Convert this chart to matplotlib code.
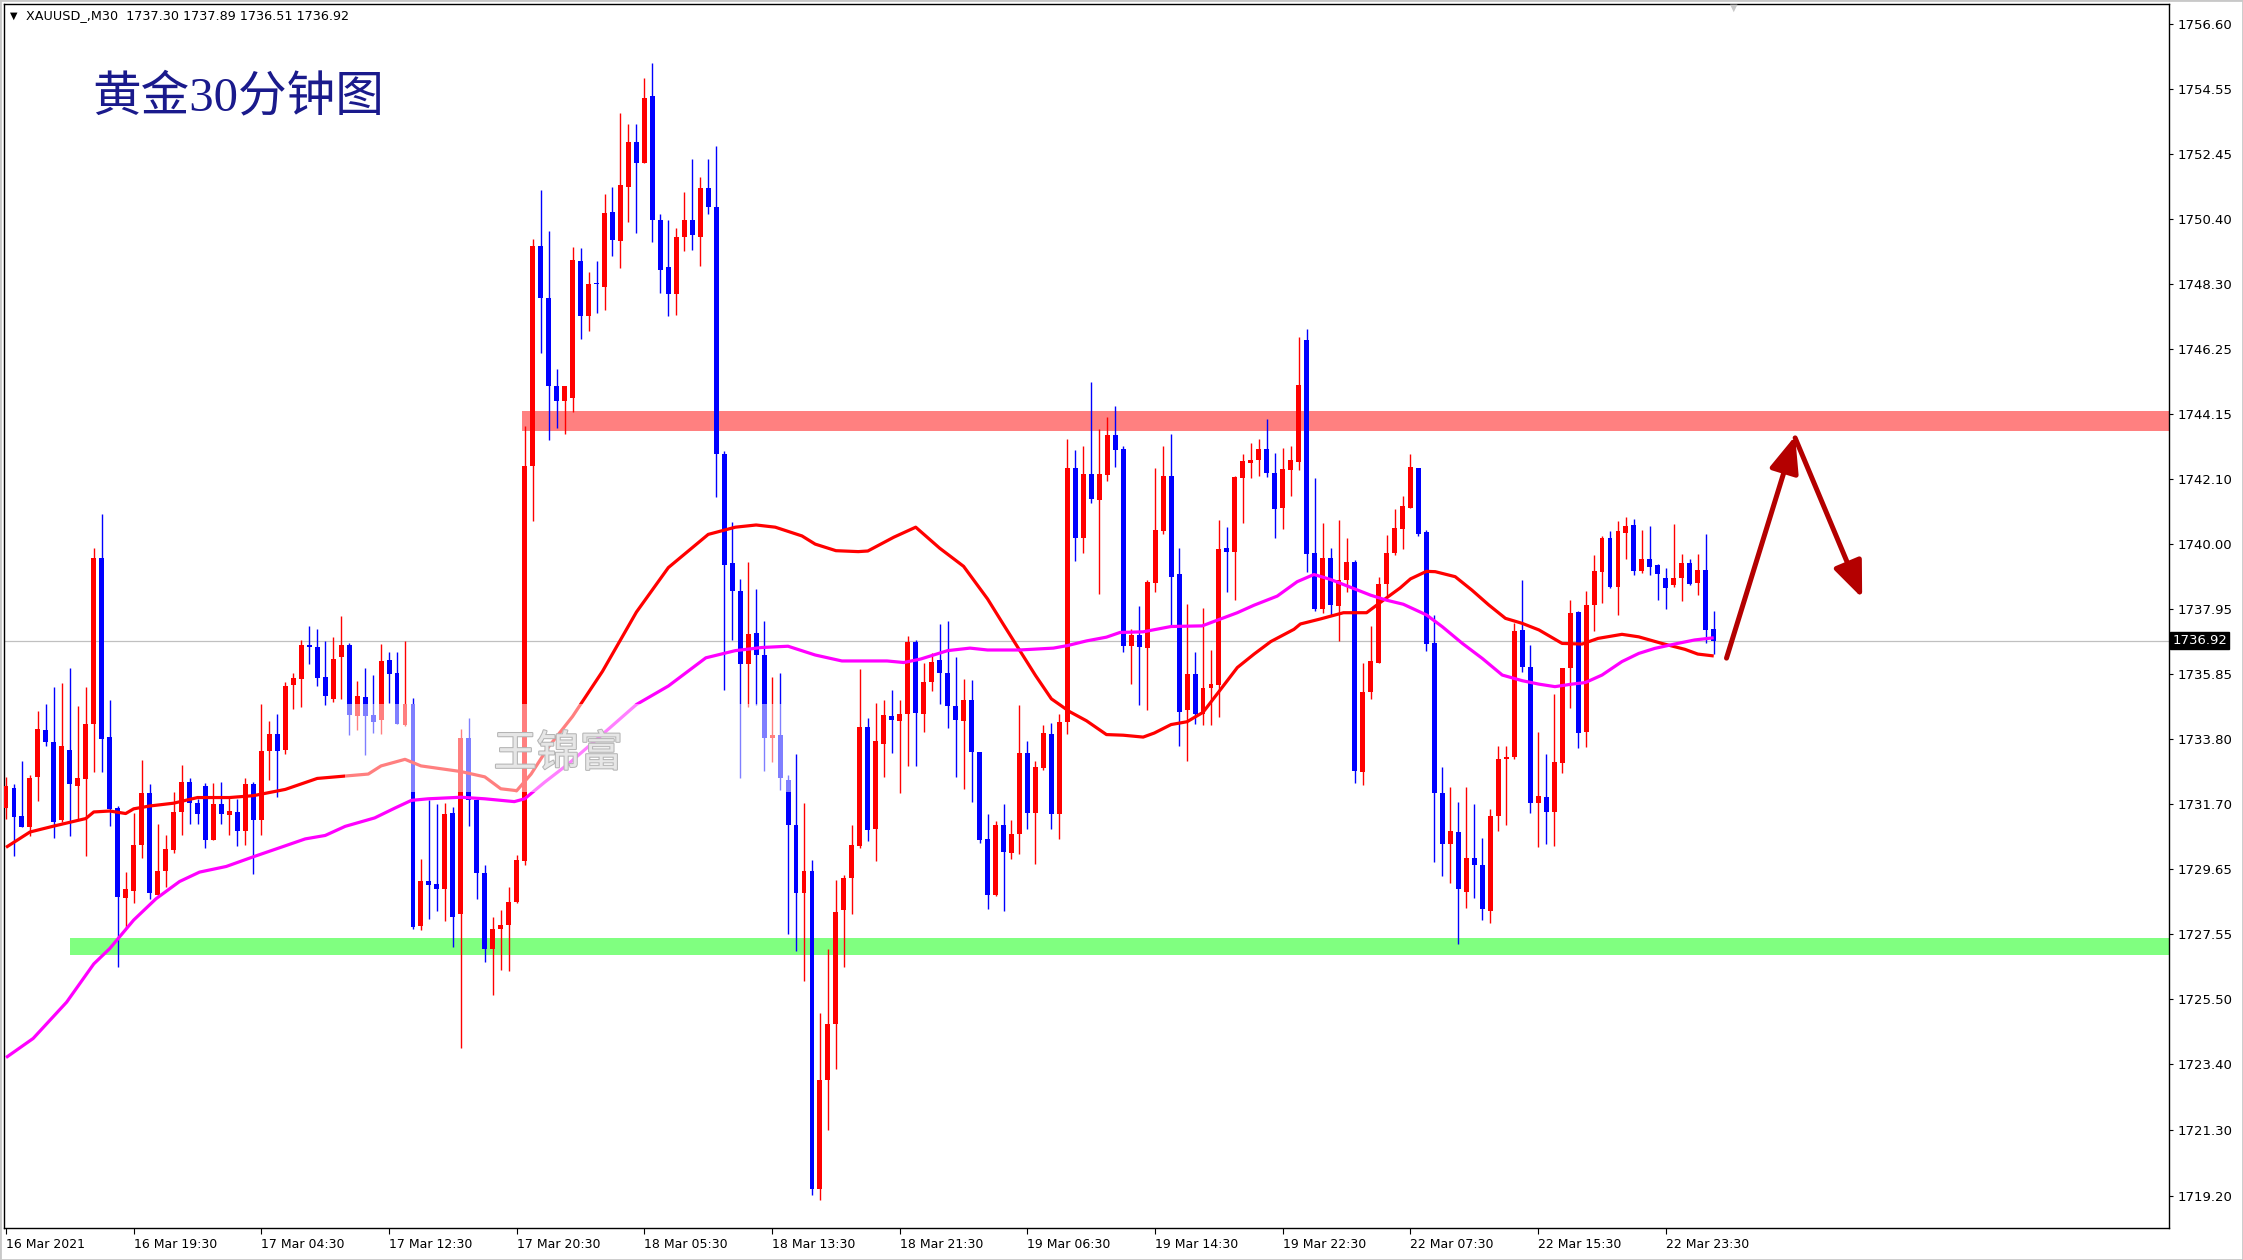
import matplotlib
matplotlib.use("Agg")
import matplotlib.pyplot as plt
import matplotlib.transforms as mtransforms
import matplotlib.patheffects as pe
from matplotlib.patches import Rectangle
import numpy as np

# OHLC of the 30-minute candles (bar 0 = 16 Mar 11:30)
opens = [1731.59, 1732.23, 1731.33, 1730.99, 1732.56, 1734.08, 1733.69, 1731.19, 1733.44, 1732.29,
         1732.50, 1734.28, 1739.56, 1733.85, 1731.59, 1728.71, 1728.93, 1730.40, 1732.07, 1728.81,
         1729.58, 1730.26, 1731.46, 1732.41, 1731.74, 1732.29, 1730.58, 1731.70, 1731.37, 1731.46,
         1730.85, 1732.35, 1731.19, 1733.39, 1733.94, 1733.44, 1735.50, 1735.71, 1736.78, 1736.71,
         1735.77, 1735.08, 1736.40, 1736.78, 1734.51, 1735.12, 1734.54, 1734.39, 1736.31, 1735.89,
         1734.24, 1734.91, 1727.82, 1729.25, 1729.17, 1728.99, 1731.44, 1728.20, 1733.81, 1731.83,
         1729.52, 1727.07, 1727.71, 1727.85, 1728.60, 1729.90, 1742.51, 1749.51, 1747.87, 1745.07,
         1744.58, 1744.66, 1749.05, 1747.28, 1748.34, 1748.23, 1750.61, 1749.69, 1751.41, 1752.85,
         1752.17, 1754.32, 1750.35, 1748.86, 1747.99, 1749.81, 1750.35, 1749.81, 1751.37, 1750.78,
         1742.89, 1739.42, 1738.50, 1736.19, 1737.18, 1736.47, 1733.83, 1733.92, 1732.48, 1731.04,
         1728.87, 1729.58, 1719.43, 1722.90, 1724.69, 1728.33, 1729.34, 1730.37, 1734.17, 1730.92,
         1733.64, 1734.52, 1734.37, 1734.60, 1736.89, 1734.60, 1735.62, 1736.31, 1735.91, 1734.83,
         1734.37, 1735.03, 1733.36, 1730.60, 1728.80, 1731.04, 1730.16, 1730.77, 1733.33, 1731.43,
         1732.86, 1733.94, 1731.41, 1734.33, 1742.43, 1740.21, 1742.24, 1741.42, 1742.20, 1743.48,
         1743.05, 1736.77, 1737.12, 1736.70, 1738.77, 1740.44, 1742.19, 1739.04, 1734.71, 1735.87,
         1734.58, 1735.41, 1735.50, 1739.87, 1739.77, 1742.12, 1742.61, 1742.68, 1743.05, 1742.28,
         1741.16, 1742.39, 1742.62, 1746.53, 1739.73, 1737.93, 1739.57, 1738.02, 1738.88, 1739.43,
         1732.73, 1735.28, 1736.21, 1738.75, 1739.74, 1740.49, 1741.16, 1742.45, 1740.40, 1736.84,
         1732.05, 1730.43, 1730.83, 1728.90, 1729.98, 1729.77, 1728.30, 1731.33, 1733.14, 1733.22,
         1737.27, 1736.08, 1731.74, 1731.95, 1731.47, 1733.01, 1736.04, 1737.83, 1734.02, 1738.06,
         1739.13, 1740.19, 1738.65, 1740.37, 1740.62, 1739.16, 1739.52, 1739.34, 1738.92, 1738.70,
         1738.94, 1739.40, 1738.78, 1739.18, 1737.30]
highs = [1732.59, 1732.35, 1733.08, 1732.65, 1734.67, 1734.91, 1735.45, 1735.59, 1736.07, 1734.85,
         1735.45, 1739.89, 1740.96, 1735.04, 1731.65, 1729.54, 1731.43, 1733.12, 1732.35, 1731.09,
         1730.73, 1732.10, 1732.96, 1732.53, 1731.86, 1732.39, 1732.39, 1732.43, 1731.90, 1731.86,
         1732.53, 1732.43, 1734.91, 1734.37, 1734.59, 1735.60, 1735.91, 1736.96, 1737.40, 1737.29,
         1736.91, 1737.05, 1737.71, 1736.84, 1735.65, 1736.05, 1735.82, 1736.82, 1736.56, 1736.56,
         1736.91, 1735.09, 1729.95, 1731.83, 1731.71, 1731.74, 1731.62, 1734.10, 1734.45, 1731.88,
         1729.78, 1728.12, 1728.33, 1729.08, 1730.10, 1743.79, 1749.74, 1751.30, 1750.00, 1745.59,
         1745.05, 1749.48, 1749.45, 1748.70, 1749.05, 1751.18, 1751.41, 1753.77, 1753.42, 1753.42,
         1754.88, 1755.36, 1750.54, 1750.35, 1750.11, 1751.25, 1752.29, 1751.72, 1752.29, 1752.71,
         1742.99, 1740.72, 1738.90, 1739.44, 1738.59, 1737.56, 1735.76, 1735.88, 1732.65, 1733.31,
         1731.75, 1729.93, 1725.04, 1727.10, 1729.29, 1729.46, 1731.04, 1736.03, 1734.45, 1734.95,
         1735.03, 1735.36, 1735.03, 1737.07, 1736.96, 1736.23, 1736.54, 1737.47, 1737.56, 1736.40,
         1735.70, 1735.67, 1733.38, 1731.41, 1731.18, 1731.70, 1731.20, 1734.87, 1733.71, 1733.09,
         1734.22, 1734.29, 1734.60, 1743.36, 1743.01, 1743.13, 1745.19, 1743.69, 1744.06, 1744.43,
         1743.13, 1737.31, 1738.05, 1738.85, 1742.43, 1743.14, 1743.54, 1739.87, 1738.11, 1736.56,
         1737.98, 1736.63, 1740.77, 1740.57, 1742.19, 1742.88, 1743.25, 1743.35, 1744.01, 1742.92,
         1743.09, 1743.14, 1746.62, 1746.89, 1742.12, 1740.67, 1739.87, 1740.77, 1740.20, 1739.51,
         1736.20, 1737.40, 1738.95, 1740.31, 1741.13, 1741.55, 1742.89, 1742.45, 1740.47, 1737.75,
         1732.91, 1732.27, 1731.79, 1732.27, 1731.73, 1730.62, 1731.54, 1733.56, 1733.56, 1737.48,
         1738.86, 1736.79, 1734.02, 1733.31, 1735.22, 1736.04, 1738.23, 1737.89, 1738.52, 1739.66,
         1740.27, 1740.44, 1740.76, 1740.86, 1740.80, 1740.46, 1740.59, 1739.37, 1739.24, 1740.65,
         1739.69, 1739.55, 1739.69, 1740.33, 1737.89]
lows = [1731.25, 1730.06, 1730.97, 1730.70, 1731.80, 1733.58, 1730.64, 1731.13, 1730.68, 1731.25,
        1730.07, 1732.75, 1732.72, 1731.01, 1726.52, 1727.71, 1728.56, 1729.99, 1728.69, 1728.75,
        1729.05, 1730.15, 1730.73, 1731.07, 1731.09, 1730.31, 1730.55, 1731.09, 1730.73, 1730.36,
        1730.40, 1729.48, 1730.73, 1732.47, 1731.95, 1733.31, 1734.74, 1734.82, 1736.17, 1735.47,
        1734.86, 1734.98, 1735.07, 1733.93, 1734.07, 1733.28, 1733.98, 1733.95, 1734.94, 1734.28,
        1734.21, 1727.73, 1727.68, 1728.03, 1728.29, 1727.98, 1727.15, 1723.91, 1731.00, 1728.68,
        1726.68, 1725.63, 1726.40, 1726.37, 1728.55, 1729.78, 1740.76, 1746.12, 1743.32, 1743.70,
        1743.52, 1744.23, 1746.57, 1746.81, 1747.40, 1747.47, 1749.22, 1748.82, 1750.30, 1749.95,
        1752.17, 1749.64, 1748.04, 1747.28, 1747.33, 1749.36, 1749.41, 1748.89, 1750.54, 1741.50,
        1735.36, 1736.94, 1732.53, 1734.82, 1734.89, 1732.76, 1733.07, 1732.17, 1727.57, 1727.03,
        1726.08, 1719.24, 1719.07, 1721.31, 1723.25, 1726.51, 1728.21, 1730.31, 1730.54, 1729.88,
        1732.59, 1733.33, 1732.08, 1732.92, 1732.92, 1734.02, 1735.33, 1734.92, 1734.14, 1732.57,
        1732.20, 1731.78, 1730.46, 1728.36, 1728.77, 1728.31, 1729.96, 1730.13, 1730.92, 1729.79,
        1732.80, 1730.92, 1730.60, 1733.94, 1739.47, 1739.71, 1741.33, 1738.43, 1742.03, 1742.47,
        1736.57, 1735.53, 1734.89, 1734.71, 1738.48, 1740.34, 1737.42, 1733.56, 1733.08, 1734.27,
        1734.22, 1734.22, 1734.49, 1738.48, 1738.22, 1740.67, 1742.12, 1742.19, 1742.16, 1740.20,
        1740.49, 1741.53, 1742.39, 1739.12, 1737.89, 1737.82, 1737.75, 1736.92, 1738.48, 1732.40,
        1732.33, 1735.07, 1736.21, 1738.29, 1739.65, 1739.85, 1741.16, 1740.27, 1736.60, 1729.87,
        1729.40, 1729.20, 1727.25, 1728.40, 1728.70, 1728.00, 1727.90, 1730.86, 1731.04, 1733.14,
        1735.94, 1731.42, 1730.33, 1730.44, 1730.38, 1732.71, 1734.77, 1733.49, 1733.54, 1737.25,
        1738.12, 1738.60, 1737.75, 1739.55, 1739.02, 1739.10, 1739.02, 1738.22, 1737.94, 1738.63,
        1738.20, 1738.70, 1738.38, 1736.86, 1736.51]
closes = [1732.29, 1731.31, 1730.99, 1732.53, 1734.10, 1733.68, 1731.15, 1733.57, 1732.34, 1732.55,
          1734.28, 1739.56, 1733.79, 1731.56, 1728.75, 1728.99, 1730.40, 1732.07, 1728.87, 1729.58,
          1730.27, 1731.46, 1732.41, 1731.74, 1731.41, 1730.58, 1731.70, 1731.41, 1731.48, 1730.85,
          1732.35, 1731.19, 1733.41, 1733.94, 1733.41, 1735.49, 1735.73, 1736.78, 1736.71, 1735.73,
          1735.17, 1736.35, 1736.78, 1734.54, 1735.16, 1734.51, 1734.33, 1736.29, 1735.87, 1734.28,
          1734.91, 1727.80, 1729.25, 1729.14, 1728.99, 1731.41, 1728.12, 1733.81, 1731.83, 1729.52,
          1727.07, 1727.71, 1727.85, 1728.60, 1729.92, 1742.51, 1749.51, 1747.87, 1745.07, 1744.58,
          1745.05, 1749.07, 1747.28, 1748.30, 1748.30, 1750.59, 1749.71, 1751.48, 1752.83, 1752.19,
          1754.25, 1750.35, 1748.75, 1747.99, 1749.81, 1750.35, 1749.88, 1751.37, 1750.78, 1742.89,
          1739.35, 1738.50, 1736.19, 1737.13, 1736.47, 1733.83, 1733.92, 1732.53, 1731.04, 1728.87,
          1729.58, 1719.43, 1722.90, 1724.69, 1728.28, 1729.34, 1730.40, 1734.17, 1730.89, 1733.71,
          1734.54, 1734.41, 1734.60, 1736.89, 1734.62, 1735.62, 1736.26, 1735.91, 1734.83, 1734.41,
          1735.03, 1733.36, 1730.58, 1728.82, 1731.04, 1730.19, 1730.77, 1733.33, 1731.43, 1732.90,
          1733.98, 1731.41, 1734.33, 1742.43, 1740.21, 1742.24, 1741.45, 1742.24, 1743.48, 1743.01,
          1736.77, 1737.12, 1736.73, 1738.81, 1740.47, 1742.19, 1738.97, 1734.64, 1735.87, 1734.58,
          1735.41, 1735.54, 1739.85, 1739.77, 1742.15, 1742.65, 1742.69, 1743.05, 1742.29, 1741.13,
          1742.40, 1742.68, 1745.10, 1739.70, 1737.95, 1739.57, 1738.06, 1738.88, 1739.43, 1732.77,
          1735.28, 1736.27, 1738.75, 1739.74, 1740.53, 1741.23, 1742.48, 1740.34, 1736.83, 1732.05,
          1730.43, 1730.86, 1729.00, 1729.98, 1729.77, 1728.35, 1731.33, 1733.14, 1733.20, 1737.24,
          1736.10, 1731.74, 1731.97, 1731.47, 1733.04, 1736.04, 1737.80, 1733.99, 1738.06, 1739.15,
          1740.19, 1738.65, 1740.43, 1740.59, 1739.16, 1739.55, 1739.29, 1739.04, 1738.62, 1738.92,
          1739.40, 1738.74, 1739.18, 1737.27, 1736.92]

# moving averages (bar index, price)
red_ma_x = [0, 3, 6, 10, 11, 13, 15, 16, 18, 21, 24, 28, 31, 35, 39, 45.4, 47, 50, 52, 57, 60, 62, 64,
            65.8, 68, 71, 74.75, 79, 83, 88, 91.4, 94, 96.4, 99.75, 101.4, 104, 106.8, 108, 111.25,
            114, 117, 120, 123, 125, 127, 129, 131, 133.3, 135.4, 137.9, 140, 142.5, 143.9, 146, 148,
            150, 152.2, 154.3, 156.4, 158.5, 161.4, 162.2, 164.7, 167.6, 170.5, 172.6, 174.7, 176,
            178, 179.1, 181.6, 183.7, 185.8, 187.9, 190, 192.1, 195, 197.5, 199.5, 202.5, 204.6,
            207.5, 210.4, 212, 214]
red_ma_y = [1730.33, 1730.82, 1731.01, 1731.25, 1731.46, 1731.49, 1731.41, 1731.56, 1731.65, 1731.74,
            1731.92, 1731.92, 1731.98, 1732.18, 1732.53, 1732.67, 1732.93, 1733.14, 1732.93, 1732.75,
            1732.58, 1732.20, 1732.14, 1732.67, 1733.54, 1734.51, 1735.95, 1737.84, 1739.26, 1740.32,
            1740.55, 1740.62, 1740.55, 1740.27, 1740.01, 1739.80, 1739.77, 1739.79, 1740.23, 1740.55,
            1739.88, 1739.30, 1738.26, 1737.44, 1736.63, 1735.82, 1735.07, 1734.66, 1734.37, 1733.93,
            1733.91, 1733.85, 1733.98, 1734.25, 1734.34, 1734.64, 1735.37, 1736.07, 1736.50, 1736.90,
            1737.29, 1737.46, 1737.62, 1737.82, 1737.82, 1738.22, 1738.61, 1738.90, 1739.14, 1739.13,
            1738.97, 1738.54, 1738.07, 1737.64, 1737.48, 1737.27, 1736.84, 1736.82, 1737.00, 1737.13,
            1737.05, 1736.84, 1736.65, 1736.50, 1736.44]
mag_ma_x = [0, 3.4, 7.6, 11, 13, 16, 18.8, 21.75, 24.25, 27.6, 31, 35, 37.5, 40, 42.5, 46.2, 48.7, 50.8,
            52.9, 57, 60, 63.7, 65, 67.5, 70.5, 74.75, 79, 83, 87.7, 91.4, 94.75, 98, 101.4, 104.75,
            108, 110.4, 112.5, 114.6, 118, 120.8, 123, 127, 131.25, 133, 135.4, 137.9, 139.6, 142.5,
            146, 149.9, 152.2, 154.3, 156.4, 159.3, 161.8, 163.9, 166, 168.9, 171, 173, 175.1, 178,
            180, 182.5, 185, 187.5, 190, 192.1, 194.1, 196.2, 197.9, 200, 202.5, 204.6, 206.6, 209.1,
            211.6, 214]
mag_ma_y = [1723.62, 1724.23, 1725.39, 1726.61, 1727.10, 1728.01, 1728.69, 1729.24, 1729.54, 1729.72,
            1730.03, 1730.38, 1730.60, 1730.71, 1731.00, 1731.27, 1731.58, 1731.83, 1731.88, 1731.93,
            1731.88, 1731.79, 1731.88, 1732.41, 1733.00, 1733.94, 1734.89, 1735.48, 1736.38, 1736.61,
            1736.71, 1736.75, 1736.47, 1736.28, 1736.28, 1736.28, 1736.23, 1736.34, 1736.61, 1736.69,
            1736.63, 1736.63, 1736.69, 1736.77, 1736.92, 1737.04, 1737.19, 1737.21, 1737.38, 1737.40,
            1737.62, 1737.82, 1738.06, 1738.35, 1738.81, 1739.04, 1738.88, 1738.59, 1738.38, 1738.22,
            1738.09, 1737.75, 1737.37, 1736.84, 1736.36, 1735.83, 1735.65, 1735.54, 1735.46, 1735.54,
            1735.59, 1735.83, 1736.26, 1736.52, 1736.68, 1736.82, 1736.95, 1737.02]

price_ticks = [1756.60, 1754.55, 1752.45, 1750.40, 1748.30, 1746.25, 1744.15, 1742.10, 1740.00,
               1737.95, 1735.85, 1733.80, 1731.70, 1729.65, 1727.55, 1725.50, 1723.40, 1721.30, 1719.20]
time_labels = ["16 Mar 2021", "16 Mar 19:30", "17 Mar 04:30", "17 Mar 12:30", "17 Mar 20:30",
               "18 Mar 05:30", "18 Mar 13:30", "18 Mar 21:30", "19 Mar 06:30", "19 Mar 14:30",
               "19 Mar 22:30", "22 Mar 07:30", "22 Mar 15:30", "22 Mar 23:30"]
time_label_bars = [0, 16, 32, 48, 64, 80, 96, 112, 128, 144, 160, 176, 192, 208]

resistance = (1743.63, 1744.27)   # red zone
support = (1726.88, 1727.44)      # green zone
last_price = 1736.92

W, H = 2243, 1260
fig = plt.figure(figsize=(W / 100, H / 100), dpi=100)
ax = fig.add_axes([4 / W, 32 / H, 2165 / W, 1224 / H])
ax.set_xlim(-0.25, 271.05)
ax.set_ylim(1718.18, 1757.25)

o = np.array(opens)
h = np.array(highs)
l = np.array(lows)
c = np.array(closes)
x = np.arange(len(o))
cols = np.where(c >= o, '#FF0000', '#0000FF')

# zones
ax.add_patch(Rectangle((64.6, resistance[0]), 300, resistance[1] - resistance[0],
                       facecolor='#FF8080', edgecolor='none', zorder=1))
ax.add_patch(Rectangle((8.0, support[0]), 300, support[1] - support[0],
                       facecolor='#80FF80', edgecolor='none', zorder=1))

# candles
ax.vlines(x, l, h, colors=cols, lw=1.0, zorder=3)
ax.bar(x, np.maximum(np.abs(c - o), 0.04), bottom=np.minimum(o, c), width=0.62,
       color=cols, lw=0, zorder=4)

# moving averages
ax.plot(red_ma_x, red_ma_y, color='#FF0000', lw=2.3, zorder=5, solid_capstyle='butt')
ax.plot(mag_ma_x, mag_ma_y, color='#FF00FF', lw=2.3, zorder=5, solid_capstyle='butt')

# current price line
ax.axhline(last_price, color='#c0c0c0', lw=0.9, zorder=2)

# watermark
ax.add_patch(Rectangle((42.5, 1732.1), 56.1, 2.8, facecolor='white', alpha=0.5,
                       edgecolor='none', zorder=6))
ax.text(69.2, 1733.3, '王锦富', fontsize=31, color='#e6e6e6', ha='center', va='center',
        family=['Noto Sans CJK SC', 'DejaVu Sans'], zorder=7,
        path_effects=[pe.withStroke(linewidth=1.5, foreground='#b4b4b4')])

# title
ax.text(0.041, 0.924, '黄金30分钟图', transform=ax.transAxes, fontsize=35, color='#1a1a8c',
        ha='left', va='center', family=['Liberation Serif', 'Noto Sans CJK SC'], zorder=8)

# arrows
arrow_kw = dict(arrowstyle='-|>,head_length=1.1,head_width=0.45', color='#b40000', lw=3.6,
                shrinkA=0, shrinkB=0, mutation_scale=20)
ax.annotate('', xy=(224.2, 1743.46), xytext=(215.6, 1736.37), arrowprops=arrow_kw, zorder=8)
ax.annotate('', xy=(232.6, 1738.29), xytext=(224.2, 1743.40), arrowprops=arrow_kw, zorder=8)

# axes styling
for s in ax.spines.values():
    s.set_color('black')
    s.set_linewidth(1.0)
ax.yaxis.tick_right()
ax.set_yticks(price_ticks)
ax.set_yticklabels([f'{v:.2f}' for v in price_ticks])
ax.tick_params(axis='y', direction='out', length=3, width=0.8, pad=3, labelsize=9.5,
               colors='black')
ax.set_xticks(time_label_bars)
ax.set_xticklabels(time_labels, family=['Liberation Sans Narrow', 'DejaVu Sans'])
ax.tick_params(axis='x', direction='out', length=4, width=0.8, pad=3, labelsize=9)
for lab in ax.get_xticklabels():
    lab.set_ha('left')

# last price tag
trans = mtransforms.blended_transform_factory(ax.transAxes, ax.transData)
ax.text(1.0015, last_price, '1736.92', transform=trans, fontsize=9.5, color='white',
        ha='left', va='center', zorder=9,
        bbox=dict(boxstyle='square,pad=0.15', facecolor='black', edgecolor='black'))

# header line
fig.text(10 / W, 1 - 16 / H, '▼', fontsize=7, color='black', ha='left', va='center')
fig.text(26 / W, 1 - 16 / H, 'XAUUSD_,M30  1737.30 1737.89 1736.51 1736.92', fontsize=9.2,
         color='black', ha='left', va='center')
fig.text(1734 / W, 1 - 8 / H, '▼', fontsize=7, color='#c8c8c8', ha='center', va='center')

fig.patches.append(Rectangle((0, 0), 1, 1, transform=fig.transFigure, fill=False,
                             edgecolor='#c8c8c8', lw=2))

fig.savefig('out.png', dpi=100)
